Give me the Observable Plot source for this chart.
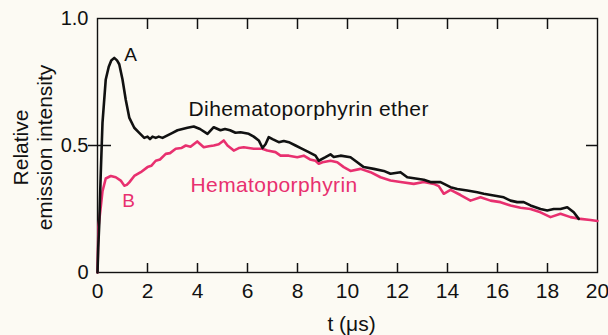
<!DOCTYPE html>
<html>
<head>
<meta charset="utf-8">
<script src="https://cdn.jsdelivr.net/npm/d3@7"></script>
<script src="https://cdn.jsdelivr.net/npm/@observablehq/plot@0.6"></script>
<style>
  html, body { margin: 0; padding: 0; background: #fcfaf3; }
  svg { display: block; }
</style>
</head>
<body>
<div id="chart"></div>
<script>
// Dihematoporphyrin ether (curve A, black)
const etherT = [0, 0.03, 0.07, 0.13, 0.2, 0.33, 0.45, 0.55, 0.67, 0.78, 0.87, 1.0, 1.13, 1.27, 1.47, 1.67, 1.87, 2.0, 2.1, 2.2, 2.33, 2.45, 2.6, 2.8, 3.0, 3.2, 3.4, 3.6, 3.85, 4.1, 4.4, 4.65, 4.92, 5.1, 5.3, 5.52, 5.72, 6.05, 6.25, 6.45, 6.6, 6.72, 6.85, 7.0, 7.25, 7.45, 7.65, 7.92, 8.19, 8.45, 8.72, 8.85, 9.12, 9.32, 9.45, 9.72, 10.12, 10.39, 10.65, 11.05, 11.45, 11.72, 12.12, 12.39, 12.79, 13.05, 13.32, 13.72, 14.12, 14.39, 14.79, 15.19, 15.45, 15.85, 16.25, 16.52, 16.79, 17.05, 17.32, 17.72, 17.99, 18.25, 18.52, 18.79, 19.05, 19.25];
const etherV = [0, 0.1, 0.19, 0.39, 0.59, 0.76, 0.81, 0.835, 0.845, 0.835, 0.82, 0.76, 0.68, 0.61, 0.57, 0.55, 0.53, 0.535, 0.525, 0.535, 0.53, 0.535, 0.53, 0.54, 0.55, 0.56, 0.565, 0.57, 0.575, 0.565, 0.546, 0.572, 0.56, 0.565, 0.56, 0.55, 0.552, 0.546, 0.535, 0.52, 0.49, 0.505, 0.533, 0.525, 0.513, 0.518, 0.513, 0.5, 0.487, 0.474, 0.46, 0.44, 0.454, 0.465, 0.455, 0.46, 0.454, 0.434, 0.415, 0.408, 0.40, 0.389, 0.395, 0.375, 0.369, 0.365, 0.356, 0.356, 0.336, 0.329, 0.323, 0.316, 0.31, 0.303, 0.296, 0.283, 0.277, 0.277, 0.264, 0.25, 0.244, 0.25, 0.25, 0.257, 0.237, 0.211];

// Hematoporphyrin (curve B, pink)
const hemaT = [0, 0.02, 0.04, 0.13, 0.2, 0.33, 0.53, 0.73, 0.93, 1.07, 1.17, 1.27, 1.47, 1.73, 2.0, 2.15, 2.33, 2.5, 2.73, 2.9, 3.13, 3.35, 3.53, 3.72, 3.99, 4.25, 4.45, 4.65, 4.85, 5.05, 5.2, 5.45, 5.65, 5.85, 6.05, 6.25, 6.59, 6.79, 7.12, 7.32, 7.65, 7.99, 8.25, 8.5, 8.72, 8.85, 9.0, 9.32, 9.59, 9.85, 10.12, 10.52, 10.92, 11.32, 11.72, 12.12, 12.65, 13.05, 13.45, 13.65, 13.85, 14.12, 14.52, 14.92, 15.32, 15.72, 16.12, 16.52, 16.92, 17.32, 17.72, 18.12, 18.52, 18.92, 19.32, 19.72, 20.0];
const hemaV = [0, 0.1, 0.18, 0.257, 0.32, 0.37, 0.38, 0.375, 0.362, 0.342, 0.345, 0.355, 0.38, 0.395, 0.415, 0.42, 0.44, 0.445, 0.467, 0.47, 0.487, 0.49, 0.5, 0.495, 0.516, 0.493, 0.497, 0.5, 0.505, 0.52, 0.5, 0.48, 0.49, 0.493, 0.49, 0.487, 0.487, 0.48, 0.474, 0.46, 0.46, 0.454, 0.46, 0.445, 0.44, 0.428, 0.434, 0.44, 0.434, 0.415, 0.40, 0.408, 0.395, 0.375, 0.362, 0.356, 0.349, 0.356, 0.349, 0.34, 0.31, 0.325, 0.305, 0.283, 0.296, 0.283, 0.277, 0.264, 0.255, 0.25, 0.237, 0.218, 0.231, 0.218, 0.211, 0.207, 0.203];

// Axis ticks and labels
const xTicks = [0, 2, 4, 6, 8, 10, 12, 14, 16, 18, 20];
const xInnerTicks = [2, 4, 6, 8, 10, 12, 14, 16, 18];
const yTicks = [0, 0.5, 1.0];
const yTickLabels = ["0", "0.5", "1.0"];
const yMidTick = [0.5];
const xTitle = "t (μs)";
const yTitle = "Relative\nemission intensity";

// Annotations
const seriesLabels = ["Dihematoporphyrin ether", "Hematoporphyrin"];
const seriesLabelT = [3.64, 3.72];
const seriesLabelV = [0.642, 0.343];
const peakLabels = ["A", "B"];
const peakT = [1.32, 1.24];
const peakV = [0.858, 0.283];

const BLACK = "#111111";
const PINK = "#e8306f";
const colors = [BLACK, PINK];

const ether = etherT.map((t, i) => ({t, v: etherV[i]}));
const hema = hemaT.map((t, i) => ({t, v: hemaV[i]}));
const labels = seriesLabels.map((s, i) => ({s, t: seriesLabelT[i], v: seriesLabelV[i], c: colors[i]}));
const peaks = peakLabels.map((s, i) => ({s, t: peakT[i], v: peakV[i], c: colors[i]}));

const W = 608, H = 335, ML = 97, MR = 11, MT = 18, MB = 63;
const plotW = W - ML - MR, plotH = H - MT - MB;

const chart = Plot.plot({
  width: W,
  height: H,
  marginLeft: ML,
  marginRight: MR,
  marginTop: MT,
  marginBottom: MB,
  x: {domain: [0, 20]},
  y: {domain: [0, 1]},
  style: {background: "#fcfaf3", color: "#111", fontFamily: "'Liberation Sans', Arial, sans-serif"},
  marks: [
    Plot.frame({stroke: "#111", strokeWidth: 1.4, fill: "none"}),
    // axis labels
    Plot.axisX(xTicks, {anchor: "bottom", tickSize: 0, tickPadding: 11, fontSize: 21, label: null, tickFormat: d => String(d)}),
    Plot.axisY(yTicks, {anchor: "left", tickSize: 0, tickPadding: 9, fontSize: 20, label: null, tickFormat: (d, i) => yTickLabels[i]}),
    Plot.text([yTitle], {frameAnchor: "left", textAnchor: "middle", lineAnchor: "middle", rotate: -90, dx: -65, dy: 2, fontSize: 21, lineHeight: 1.13}),
    Plot.text([xTitle], {frameAnchor: "bottom", textAnchor: "middle", lineAnchor: "middle", dx: 4, dy: 52, fontSize: 21}),
    Plot.line(hema, {x: "t", y: "v", stroke: PINK, strokeWidth: 2.6, strokeLinejoin: "round"}),
    Plot.line(ether, {x: "t", y: "v", stroke: BLACK, strokeWidth: 2.6, strokeLinejoin: "round"}),
    Plot.text(labels, {x: "t", y: "v", text: "s", fill: "c", textAnchor: "start", fontSize: 21}),
    Plot.text(peaks, {x: "t", y: "v", text: "s", fill: "c", fontSize: 19}),
    // inward ticks: opposite-side axis ticks shifted across the frame
    Plot.axisX(xInnerTicks, {anchor: "top", tickSize: 10, dy: plotH, fill: "none", label: null, stroke: BLACK, strokeWidth: 1.5}),
    Plot.axisX(xInnerTicks, {anchor: "bottom", tickSize: 11, dy: -plotH, fill: "none", label: null, stroke: BLACK, strokeWidth: 1.5}),
    Plot.axisY(yMidTick, {anchor: "left", tickSize: 9, fill: "none", label: null, stroke: BLACK, strokeWidth: 1.5}),
    Plot.axisY(yMidTick, {anchor: "right", tickSize: 13, dx: -plotW, fill: "none", label: null, stroke: BLACK, strokeWidth: 1.5}),
    Plot.axisY(yMidTick, {anchor: "left", tickSize: 11, dx: plotW, fill: "none", label: null, stroke: BLACK, strokeWidth: 1.5})
  ]
});
d3.select(chart).selectAll("text")
  .filter(function() { return seriesLabels.includes(this.textContent); })
  .attr("letter-spacing", "0.4px");
document.getElementById("chart").appendChild(chart);
</script>
</body>
</html>
